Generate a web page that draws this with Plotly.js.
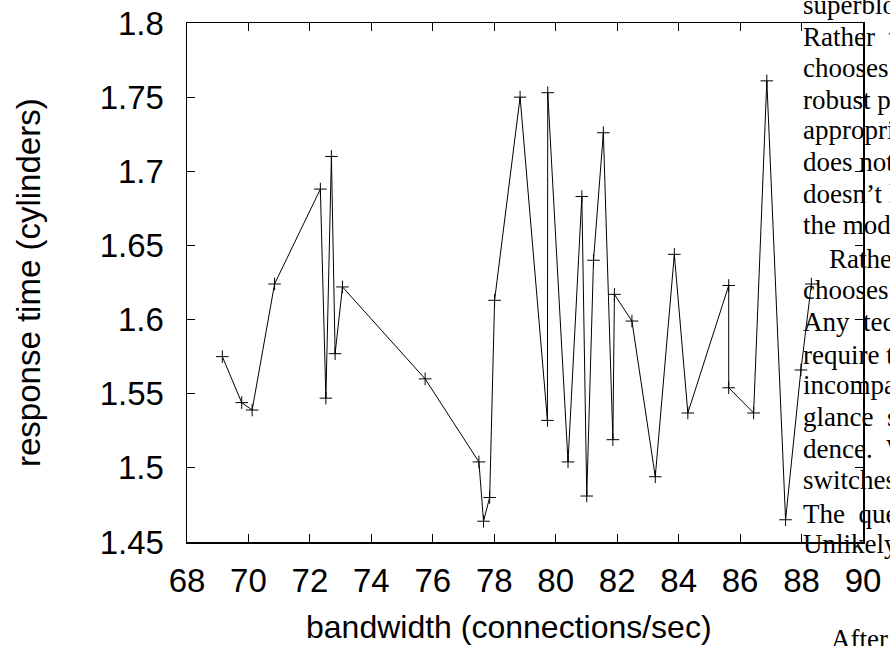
<!DOCTYPE html>
<html>
<head>
<meta charset="utf-8">
<script src="https://cdn.plot.ly/plotly-3.0.1.min.js"></script>
<style>
  html, body { margin: 0; padding: 0; background: #fff; }
  #chart { width: 890px; height: 646px; }
</style>
</head>
<body>
<div id="chart"></div>
<script>
// ---- data ----
const bandwidth = [69.15, 69.78, 70.12, 70.85, 72.34, 72.52, 72.70, 72.82, 73.06, 75.75,
                   77.50, 77.65, 77.85, 78.01, 78.84, 79.73, 79.74, 80.40, 80.85, 81.01,
                   81.23, 81.55, 81.86, 81.91, 82.48, 83.24, 83.86, 84.30, 85.63, 85.63,
                   86.44, 86.87, 87.48, 87.98, 88.32];
const responseTime = [1.575, 1.544, 1.539, 1.624, 1.688, 1.547, 1.710, 1.577, 1.622, 1.560,
                      1.504, 1.464, 1.480, 1.613, 1.750, 1.532, 1.753, 1.504, 1.683, 1.481,
                      1.640, 1.726, 1.519, 1.617, 1.599, 1.494, 1.644, 1.537, 1.623, 1.554,
                      1.537, 1.761, 1.465, 1.566, 1.624];
const xTickVals = [68, 70, 72, 74, 76, 78, 80, 82, 84, 86, 88, 90];
const xTickText = ["68", "70", "72", "74", "76", "78", "80", "82", "84", "86", "88", "90"];
const yTickVals = [1.45, 1.5, 1.55, 1.6, 1.65, 1.7, 1.75, 1.8];
const yTickText = ["1.45", "1.5", "1.55", "1.6", "1.65", "1.7", "1.75", "1.8"];
const xTitle = "bandwidth (connections/sec)";
const yTitle = "response time (cylinders)";

// paper text overlapping the figure on the right
const paperLines = ["superbloc", "Rather\u00a0\u00a0t", "chooses", "robust\u00a0pr",
  "appropri", "does\u00a0not", "doesn\u2019t\u00a0l", "the\u00a0mod",
  "Rathe", "chooses", "Any\u00a0\u00a0tec", "require\u00a0t", "incompa",
  "glance\u00a0\u00a0s", "dence.\u00a0\u00a0W", "switches", "The\u00a0\u00a0que", "Unlikely", "After"];
const paperLineBase = [13, 45, 76, 108, 138, 170, 202, 233, 267, 298, 330, 363, 393, 425, 457, 488, 522, 552, 647];
const paperLineLeft = [803, 803, 803, 803, 803, 803, 803, 803, 829, 803, 803, 803, 803, 803, 803, 803, 803, 803, 831];

// ---- layout helpers (pixel -> paper) ----
const L = 187, R = 863, T = 23, B = 542, W = 890, H = 646;
const px = v => (v - L) / (R - L);
const py = v => (B - v) / (B - T);

const sans = "Liberation Sans, Arial, Helvetica, sans-serif";
const serif = "Liberation Serif, Times New Roman, serif";

const annotations = [];
annotations.push({
  text: xTitle, xref: "paper", yref: "paper", x: px(509), y: py(627),
  xanchor: "center", yanchor: "middle", showarrow: false,
  font: { family: sans, size: 32, color: "#000" }
});
annotations.push({
  text: yTitle, xref: "paper", yref: "paper", x: px(28), y: py(283),
  xanchor: "center", yanchor: "middle", showarrow: false, textangle: -90,
  font: { family: sans, size: 33, color: "#000" }
});
for (let i = 0; i < paperLines.length; i++) {
  annotations.push({
    text: paperLines[i], xref: "paper", yref: "paper",
    x: px(paperLineLeft[i] - 2), y: py(paperLineBase[i] - 8),
    xanchor: "left", yanchor: "middle", showarrow: false,
    font: { family: serif, size: 27, color: "#000" }
  });
}

const axisCommon = {
  showgrid: false, zeroline: false, showline: true, linecolor: "#000", linewidth: 1.5,
  mirror: "allticks", ticks: "inside", ticklen: 8, tickwidth: 1, tickcolor: "#000",
  tickfont: { family: sans, size: 33, color: "#000" }, fixedrange: true
};

const trace = {
  x: bandwidth, y: responseTime, type: "scatter", mode: "lines+markers",
  line: { color: "#000", width: 1 },
  marker: { symbol: "cross-thin-open", size: 9, color: "#000", line: { color: "#000", width: 1 } },
  cliponaxis: false, hoverinfo: "skip"
};

const layout = {
  width: W, height: H,
  margin: { l: L, r: W - R, t: T, b: H - B, pad: 0 },
  paper_bgcolor: "#fff", plot_bgcolor: "#fff",
  showlegend: false,
  xaxis: Object.assign({}, axisCommon, {
    range: [68, 90], tickmode: "array", tickvals: xTickVals, ticktext: xTickText,
    ticklabelstandoff: 9
  }),
  yaxis: Object.assign({}, axisCommon, {
    range: [1.45, 1.8], tickmode: "array", tickvals: yTickVals, ticktext: yTickText,
    ticklabelstandoff: 15
  }),
  annotations: annotations
};

Plotly.newPlot("chart", [trace], layout, { staticPlot: true, displayModeBar: false });
</script>
</body>
</html>
